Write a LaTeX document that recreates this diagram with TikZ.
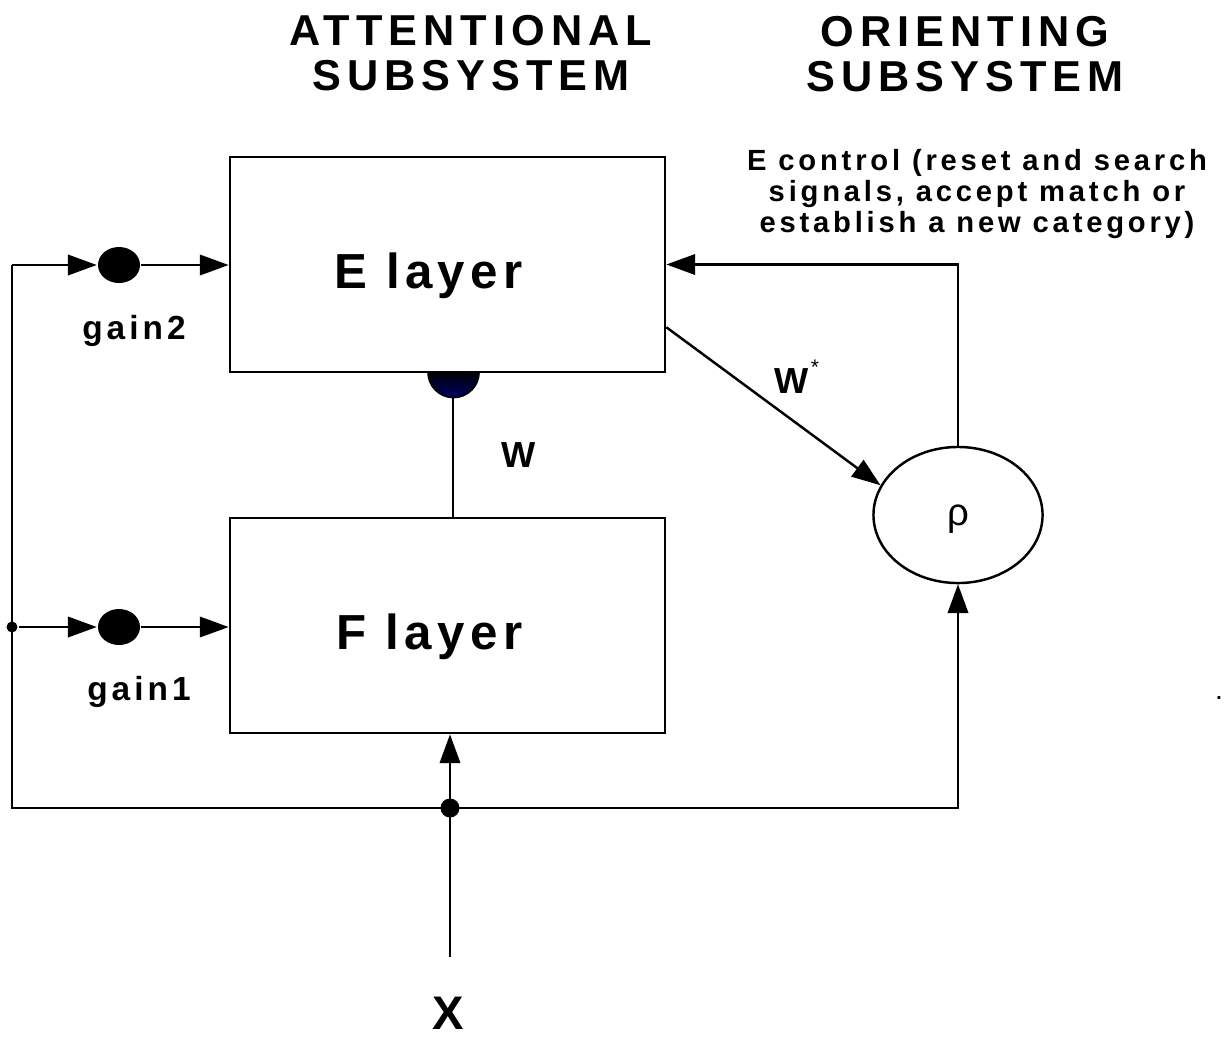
\documentclass[tikz,border=0pt]{standalone}
\usepackage{fontspec}
\setmainfont{Liberation Sans}
\newcommand{\track}[1]{\addfontfeature{LetterSpace=#1}}
\usetikzlibrary{arrows.meta,shapes.geometric}

\begin{document}
\begin{tikzpicture}[x=0.01cm, y=-0.01cm, line width=0.7pt,
    >={Triangle[length=8.2pt,width=5.8pt]},
    layer/.style={draw, line width=0.7pt, minimum width=4.35cm, minimum height=2.15cm,
        text height=16.2pt, text depth=2.8pt, font=\bfseries\fontsize{14}{16}\selectfont\track{11}},
    head/.style={align=center, font=\bfseries\fontsize{12.3}{12.9}\selectfont\track{14}},
    gain/.style={ellipse, fill=black, inner sep=0pt, minimum width=0.42cm, minimum height=0.36cm},
    dot/.style={circle, fill=black, inner sep=0pt, minimum size=#1},
    lbl/.style={font=\bfseries\fontsize{9.5}{11}\selectfont\track{12}},
    wlbl/.style={font=\bfseries\fontsize{10.3}{12}\selectfont},
    note/.style={align=center, font=\bfseries\fontsize{8.3}{8.8}\selectfont\track{13}}
]
\useasboundingbox (0,0) rectangle (1228,1036);

% headings
\node[head] (att) at (471,53) {ATTENTIONAL\\SUBSYSTEM};
\node[head] (ori) at (965,54) {ORIENTING\\SUBSYSTEM};
\node[note] (ctl) at (977,194) {E control (reset and search\\signals, accept match or\\establish a new category)};

% the two layers and the vigilance unit
\node[layer] (elayer) at (447.5,264.5) {E layer\hspace*{0.38cm}};
\node[layer] (flayer) at (447.5,625.5) {F layer\hspace*{0.36cm}};
\node[ellipse, draw, line width=0.7pt, minimum width=1.69cm, minimum height=1.36cm,
    text depth=0pt, font=\fontsize{10.9}{12}\selectfont] (rho) at (958,515) {ρ};

% gain controls
\coordinate (lt) at (12,265);
\coordinate (lb) at (12,808);
\node[gain] (g2) at (119,265) {};
\node[gain] (g1) at (119,627) {};
\node[dot=0.11cm] (j1) at (12,627) {};
\node[dot=0.19cm] (jx) at (450,808) {};
\node[lbl] (g2l) at (134,331) {gain2};
\node[lbl] (g1l) at (139,692) {gain1};

\draw[->] (lt) -- (g2.west);
\draw[->] (g2) -- (g2 -| elayer.west);
\draw[->] (j1) -- (g1.west);
\draw[->] (g1) -- (g1 -| flayer.west);
\draw[->] (lt) -- (lb) -| (rho.south);

% input X
\coordinate (xin) at (450,957);
\node[font=\bfseries\fontsize{13.4}{15}\selectfont] (xl) at (448,1013) {X};
\draw[->] (xin) -- (xin |- flayer.south);

% bottom-up weights W
\shade[top color=black, bottom color=blue!40!black, draw=black, line width=0.5pt]
    (428,372) arc[start angle=180, end angle=360, radius=0.255cm] -- cycle;
\coordinate (wsyn) at (453,397);
\draw (wsyn) -- (wsyn |- flayer.north);
\node[wlbl] (wl) at (519,455) {W};

% top-down weights W* and reset
\draw[->] (elayer.-16.4) -- (rho.159);
\node[wlbl] (wsl) at (792,381) {W};
\node[font=\fontsize{6}{7}\selectfont] (wst) at (815,367) {*};
\draw[->] (rho.north) |- (elayer.east);

\node[font=\fontsize{8}{9}\selectfont] (pt) at (1219,698) {.};
\end{tikzpicture}
\end{document}
